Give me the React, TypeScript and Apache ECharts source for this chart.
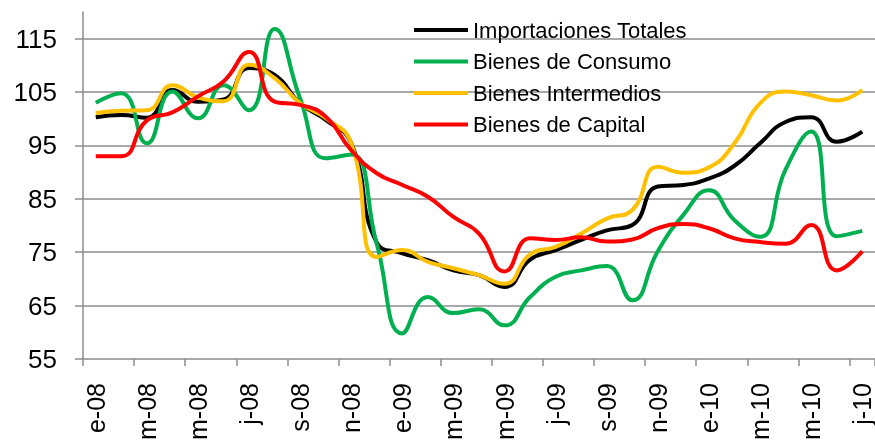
import React, { useEffect, useRef } from "react";
import * as echarts from "echarts";

const months = [
  "e-08", "f-08", "m-08", "a-08", "m-08", "j-08", "j-08", "a-08", "s-08", "o-08", "n-08", "d-08",
  "e-09", "f-09", "m-09", "a-09", "m-09", "j-09", "j-09", "a-09", "s-09", "o-09", "n-09", "d-09",
  "e-10", "f-10", "m-10", "a-10", "m-10", "j-10", "j-10",
];

const totales = [
  100.3, 100.7, 100.2, 105.4, 103.2, 103.6, 109.5, 108.2, 102.9, 99.8, 95.4, 76.8,
  74.8, 73.5, 71.6, 70.7, 68.5, 73.6, 75.4, 77.3, 79.1, 80.1, 87.3, 87.6,
  88.8, 91.2, 95.4, 99.4, 100.3, 95.7, 97.6,
];

const consumo = [
  103.0, 104.8, 95.4, 105.1, 100.1, 106.3, 101.6, 116.8, 103.8, 92.6, 93.3, 76.5,
  59.8, 66.6, 63.6, 64.3, 61.3, 66.6, 70.4, 71.6, 72.4, 66.0, 75.2, 82.0,
  86.6, 81.0, 77.9, 90.5, 97.6, 78.0, 79.0,
];

const intermedios = [
  101.1, 101.5, 101.6, 106.3, 104.0, 103.3, 110.1, 107.6, 102.9, 100.1, 95.4, 74.1,
  75.4, 73.2, 72.0, 70.7, 69.1, 74.6, 76.0, 78.5, 81.3, 82.9, 91.0, 89.9,
  90.9, 95.4, 102.9, 105.1, 104.4, 103.4, 105.4,
];

const capital = [
  93.0, 93.0, 99.7, 101.2, 104.2, 107.0, 112.5, 103.2, 102.6, 100.4, 94.1, 89.8,
  87.6, 85.4, 81.6, 78.5, 71.4, 77.6, 77.3, 77.8, 77.0, 77.4, 79.5, 80.3,
  79.5, 77.6, 76.9, 76.6, 80.1, 71.6, 75.2,
];

const seriesNames = [
  "Importaciones Totales",
  "Bienes de Consumo",
  "Bienes Intermedios",
  "Bienes de Capital",
];
const seriesColors = ["#000000", "#00B050", "#FFC000", "#FF0000"];
const seriesData = [totales, consumo, intermedios, capital];

const FONT = "'Liberation Sans', Arial, sans-serif";
const GRID_COLOR = "#8c8c8c";

export default function App() {
  const ref = useRef<HTMLDivElement>(null);

  useEffect(() => {
    if (!ref.current) return;
    const chart = echarts.init(ref.current, undefined, { renderer: "svg" });
    chart.setOption({
      animation: false,
      textStyle: { fontFamily: FONT },
      grid: {
        left: 83,
        right: 0,
        top: 12,
        bottom: 81,
        containLabel: false,
        outerBoundsMode: "none",
      },
      legend: {
        orient: "vertical",
        left: 414,
        top: 19,
        itemWidth: 54,
        itemHeight: 22,
        itemGap: 9.5,
        icon: "path://M0,0 L54,0 L54,4 L0,4 Z",
        data: seriesNames.map((n, i) => ({
          name: n,
          itemStyle: { color: seriesColors[i] },
        })),
        textStyle: {
          fontFamily: FONT,
          fontSize: 22,
          lineHeight: 22,
          color: "#000",
          padding: [0, 0, 0, 0],
        },
        padding: 0,
      },
      xAxis: {
        type: "category",
        data: months,
        boundaryGap: true,
        axisLine: { show: true, lineStyle: { color: GRID_COLOR, width: 1.5 } },
        axisTick: {
          show: true,
          interval: 1,
          length: 7,
          alignWithLabel: false,
          lineStyle: { color: GRID_COLOR, width: 1.5 },
        },
        axisLabel: {
          interval: 1,
          rotate: 90,
          margin: 24,
          fontSize: 25,
          color: "#000",
          fontFamily: FONT,
        },
        splitLine: { show: false },
      },
      yAxis: {
        type: "value",
        min: 55,
        max: 120,
        interval: 10,
        axisLine: { show: true, lineStyle: { color: GRID_COLOR, width: 1.5 } },
        axisTick: { show: true, length: 8, lineStyle: { color: GRID_COLOR, width: 1.5 } },
        axisLabel: {
          margin: 26,
          fontSize: 26,
          color: "#000",
          fontFamily: FONT,
          showMaxLabel: false,
          formatter: (v: number) => (v > 115 ? "" : String(v)),
        },
        splitLine: {
          show: true,
          showMinLine: false,
          showMaxLine: false,
          lineStyle: { color: GRID_COLOR, width: 1.5 },
        },
      },
      series: seriesData.map((d, i) => ({
        name: seriesNames[i],
        type: "line",
        data: d,
        smooth: 0.5,
        symbol: "none",
        lineStyle: { color: seriesColors[i], width: 4 },
        itemStyle: { color: seriesColors[i] },
      })),
    });
    return () => chart.dispose();
  }, []);

  return (
    <div
      ref={ref}
      style={{ position: "fixed", left: 0, top: 0, width: 875, height: 440 }}
    />
  );
}
